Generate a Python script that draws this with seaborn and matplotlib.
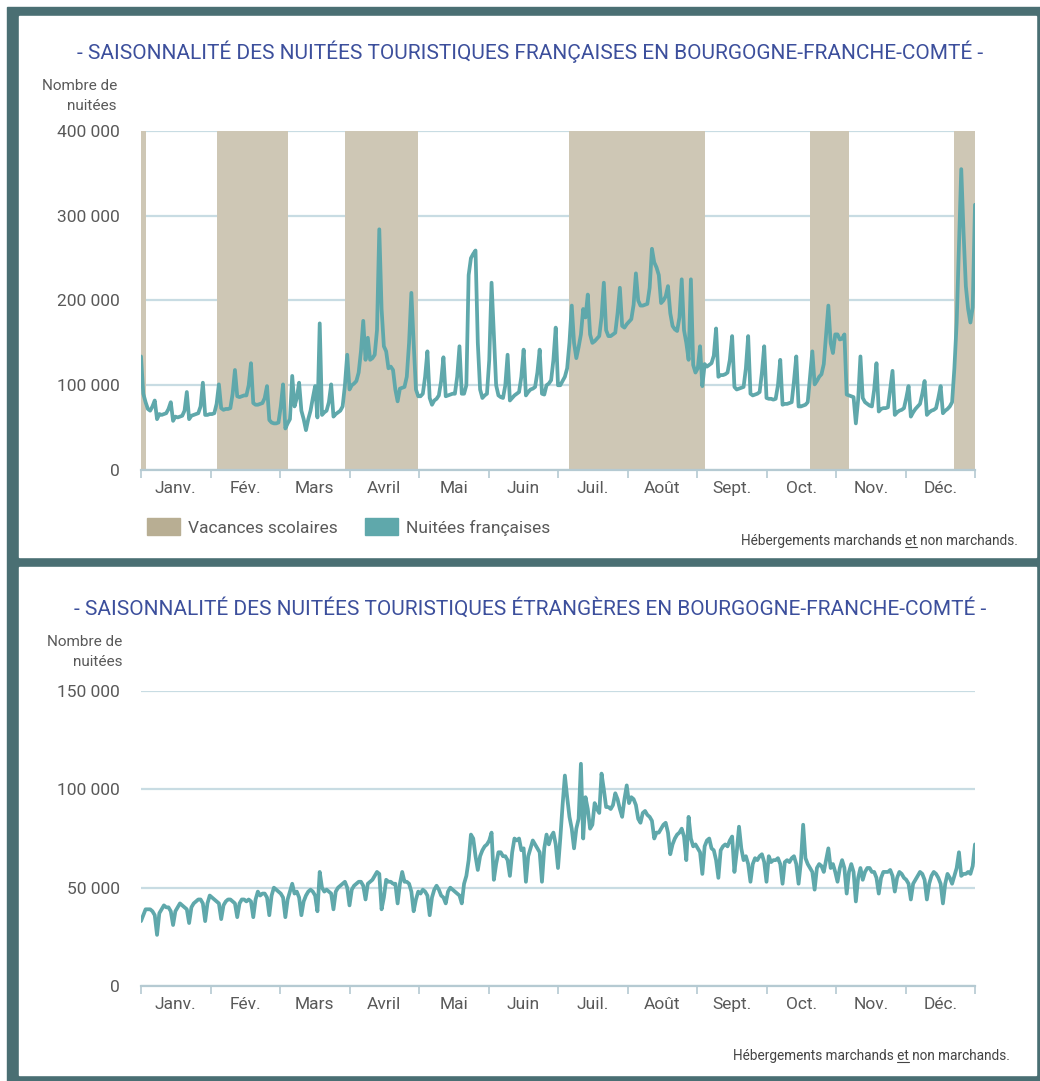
import numpy as np
import pandas as pd
import matplotlib
matplotlib.use("Agg")
import matplotlib.pyplot as plt
from matplotlib.patches import Rectangle, Patch
from matplotlib.lines import Line2D
from matplotlib.ticker import FuncFormatter
import seaborn as sns

# ---- données : milliers de nuitées, une valeur par jour (2017) ----
nuitees_fr = [
    # janv.
    134, 90, 80, 72, 70, 75, 82, 60, 66, 65, 66, 67, 72, 80, 58, 63, 62, 63, 64, 70, 92, 60, 64, 65, 66, 67, 75, 103, 65, 65, 66,
    # fév.
    66, 67, 78, 101, 73, 71, 72, 72, 73, 90, 118, 87, 86, 87, 88, 88, 100, 126, 79, 77, 77, 78, 79, 85, 99, 59, 56, 55,
    # mars
    55, 56, 75, 101, 49, 55, 60, 111, 75, 85, 103, 70, 60, 47, 60, 70, 85, 99, 62, 173, 65, 68, 70, 80, 101, 63, 66, 68, 70, 75, 100,
    # avril
    136, 95, 100, 102, 105, 115, 140, 176, 130, 156, 130, 132, 136, 165, 284, 190, 146, 140, 120, 122, 118, 95, 81, 96, 97, 98, 110, 150, 209, 150,
    # mai
    95, 87, 87, 90, 110, 140, 85, 77, 82, 84, 88, 105, 133, 87, 88, 89, 90, 90, 110, 146, 90, 90, 100, 230, 250, 255, 259, 150, 95, 85, 88,
    # juin
    90, 130, 221, 160, 100, 88, 86, 85, 100, 136, 82, 85, 88, 90, 92, 110, 142, 88, 92, 95, 96, 98, 115, 142, 90, 89, 100, 102, 106, 130,
    # juil.
    168, 100, 100, 105, 110, 120, 150, 194, 150, 132, 145, 160, 190, 180, 207, 160, 150, 152, 155, 158, 180, 221, 165, 158, 158, 160, 162, 185, 215, 170, 168,
    # août
    172, 175, 178, 195, 232, 200, 194, 194, 195, 196, 215, 261, 245, 239, 230, 197, 200, 205, 217, 185, 170, 166, 164, 180, 225, 165, 150, 130, 225, 124, 115,
    # sept.
    120, 146, 99, 125, 122, 124, 126, 135, 167, 110, 112, 112, 113, 115, 130, 158, 98, 95, 96, 97, 98, 120, 158, 90, 88, 89, 90, 92, 115, 146,
    # oct.
    85, 84, 84, 83, 84, 100, 130, 77, 78, 78, 79, 80, 105, 134, 75, 75, 76, 77, 80, 110, 140, 101, 105, 110, 113, 125, 160, 194, 150, 138, 160,
    # nov.
    160, 154, 155, 160, 89, 88, 87, 86, 55, 83, 134, 85, 80, 78, 76, 75, 95, 126, 69, 72, 73, 73, 74, 95, 117, 65, 68, 70, 71, 73,
    # déc.
    85, 99, 63, 68, 72, 75, 78, 90, 105, 65, 68, 70, 71, 73, 85, 99, 67, 70, 72, 75, 80, 120, 174, 265, 355, 280, 217, 190, 174, 192, 313,
]

nuitees_etr = [
    # janv.
    33, 36, 39, 39, 39, 38, 36, 26, 37, 39, 41, 40, 40, 38, 31, 38, 40, 42, 41, 40, 39, 32, 40, 42, 43, 44, 44, 42, 33, 42, 46,
    # fév.
    45, 44, 43, 42, 34, 41, 43, 44, 44, 43, 42, 35, 42, 44, 44, 43, 44, 43, 35, 44, 48, 46, 47, 47, 45, 36, 46, 50,
    # mars
    49, 48, 47, 45, 35, 44, 48, 52, 47, 48, 45, 36, 43, 46, 48, 49, 48, 46, 38, 58, 50, 48, 49, 48, 47, 39, 48, 50, 51, 52, 53,
    # avril
    50, 41, 49, 51, 52, 53, 53, 51, 44, 52, 53, 54, 56, 58, 57, 39, 45, 54, 53, 53, 52, 52, 42, 52, 58, 53, 53, 52, 48, 38,
    # mai
    44, 48, 47, 49, 48, 46, 36, 45, 49, 51, 49, 46, 45, 42, 48, 50, 49, 48, 47, 46, 42, 52, 56, 64, 77, 75, 66, 59, 66, 69, 71,
    # juin
    72, 74, 78, 54, 62, 68, 68, 66, 66, 64, 56, 68, 75, 74, 75, 69, 70, 53, 66, 70, 74, 72, 70, 68, 53, 70, 77, 72, 76, 78,
    # juil.
    72, 60, 75, 92, 107, 96, 86, 80, 70, 80, 85, 113, 75, 96, 90, 80, 82, 93, 90, 88, 108, 100, 91, 91, 90, 92, 98, 95, 90, 86, 95,
    # août
    102, 93, 96, 95, 92, 85, 83, 88, 89, 87, 86, 84, 75, 78, 78, 80, 82, 83, 78, 67, 72, 75, 77, 78, 80, 76, 64, 86, 75, 71, 72,
    # sept.
    70, 68, 57, 71, 74, 75, 70, 69, 64, 55, 69, 71, 72, 71, 74, 76, 58, 68, 81, 70, 64, 66, 62, 53, 62, 65, 64, 66, 67, 63,
    # oct.
    53, 66, 63, 64, 64, 65, 62, 52, 63, 64, 63, 65, 66, 62, 52, 63, 82, 65, 62, 60, 58, 49, 60, 62, 61, 58, 64, 70, 60, 62, 58,
    # nov.
    53, 60, 64, 60, 47, 58, 62, 58, 43, 55, 60, 54, 58, 60, 60, 58, 58, 55, 47, 55, 58, 58, 58, 59, 56, 48, 55, 58, 57, 55,
    # déc.
    54, 52, 44, 52, 54, 56, 58, 57, 54, 44, 52, 56, 58, 57, 55, 52, 42, 52, 57, 55, 52, 56, 60, 68, 56, 57, 57, 58, 57, 61, 72,
]

mois = ["Janv.", "Fév.", "Mars", "Avril", "Mai", "Juin", "Juil.", "Août", "Sept.", "Oct.", "Nov.", "Déc."]

# périodes de vacances scolaires (jour de début, jour de fin)
vacances = [(0, 2), (33, 64), (89, 121), (187, 246), (292, 309), (355, 365)]

titre_fr = "- SAISONNALITÉ DES NUITÉES TOURISTIQUES FRANÇAISES EN BOURGOGNE-FRANCHE-COMTÉ -"
titre_etr = "- SAISONNALITÉ DES NUITÉES TOURISTIQUES ÉTRANGÈRES EN BOURGOGNE-FRANCHE-COMTÉ -"
note_src = "Hébergements marchands et non marchands."

# couleurs
c_fond = "#4a6f73"
c_ligne = "#5fa8ab"
c_vac = "#cec7b5"
c_vac_leg = "#b8ae93"
c_grille = "#c8dce3"
c_axe = "#b5cad2"
c_titre = "#3c4f9c"
c_texte = "#595959"

sns.set_theme(style="white")
plt.rcParams["font.family"] = ["Liberation Sans Narrow", "Roboto", "DejaVu Sans"]

W, H = 1040, 1081
fx = lambda x: x / W
fy = lambda y: 1 - y / H

df = pd.DataFrame({
    "jour": np.arange(len(nuitees_fr)),
    "fr": np.array(nuitees_fr) * 1000,
    "etr": np.array(nuitees_etr) * 1000,
})

fig = plt.figure(figsize=(W / 100, H / 100), dpi=100)
fig.patch.set_facecolor("white")
# cadre sombre + deux panneaux blancs
fig.patches.append(Rectangle((fx(7), 0), 1 - fx(7), fy(7), transform=fig.transFigure, color=c_fond, zorder=-10))
fig.patches.append(Rectangle((fx(19), fy(557)), fx(1036) - fx(19), fy(16) - fy(557), transform=fig.transFigure, color="white", zorder=-9))
fig.patches.append(Rectangle((fx(19), fy(1075)), fx(1036) - fx(19), fy(567) - fy(1075), transform=fig.transFigure, color="white", zorder=-9))

ax1 = fig.add_axes([fx(141), fy(470), 834 / W, 339 / H])
ax2 = fig.add_axes([fx(141), fy(986), 834 / W, 295 / H])

fmt = FuncFormatter(lambda v, p: f"{int(v):,}".replace(",", " "))
n = len(nuitees_fr) - 1
bornes = np.linspace(0, n, 13)
centres = (bornes[:-1] + bornes[1:]) / 2


def style_axe(ax, ymax, pas):
    ax.patch.set_alpha(0)
    ax.set_xlim(0, n)
    ax.set_ylim(0, ymax)
    ax.set_yticks(np.arange(0, ymax + 1, pas))
    ax.yaxis.set_major_formatter(fmt)
    ax.set_axisbelow(True)
    ax.grid(axis="y", color=c_grille, lw=1.6)
    ax.grid(axis="x", visible=False)
    for s in ["top", "left", "right"]:
        ax.spines[s].set_visible(False)
    ax.spines["bottom"].set_color(c_axe)
    ax.spines["bottom"].set_linewidth(1.6)
    ax.set_xticks(bornes)
    ax.set_xticklabels([])
    ax.set_xticks(centres, minor=True)
    ax.set_xticklabels(mois, minor=True)
    ax.tick_params(axis="x", which="major", length=6, width=1.2, color=c_axe, direction="out", bottom=True)
    ax.tick_params(axis="x", which="minor", length=0, pad=8, labelsize=12.5, labelcolor=c_texte, bottom=True)
    ax.tick_params(axis="y", length=0, pad=15, labelsize=12.5, labelcolor=c_texte)
    ax.set_xlabel("")
    ax.set_ylabel("")


# --- graphique 1 : nuitées françaises ---
for a, b in vacances:
    ax1.axvspan(a, b, color=c_vac, lw=0, zorder=1)
sns.lineplot(data=df, x="jour", y="fr", ax=ax1, color=c_ligne, lw=2.7, zorder=3)
style_axe(ax1, 400000, 100000)

# --- graphique 2 : nuitées étrangères ---
sns.lineplot(data=df, x="jour", y="etr", ax=ax2, color=c_ligne, lw=2.7, zorder=3)
style_axe(ax2, 150000, 50000)

# titres et textes
fig.text(fx(530), fy(52), titre_fr, ha="center", va="center", fontsize=15, color=c_titre)
fig.text(fx(530), fy(608), titre_etr, ha="center", va="center", fontsize=15, color=c_titre)
fig.text(fx(117), fy(96), "Nombre de\nnuitées", ha="right", va="center", fontsize=11, color=c_texte, linespacing=1.6)
fig.text(fx(122), fy(652), "Nombre de\nnuitées", ha="right", va="center", fontsize=11, color=c_texte, linespacing=1.6)

fig.legend(handles=[Patch(color=c_vac_leg, label="Vacances scolaires"), Patch(color=c_ligne, label="Nuitées françaises")],
           loc="center left", bbox_to_anchor=(fx(147), fy(527)), ncol=2, frameon=False, fontsize=12.5,
           handlelength=1.9, handleheight=1.1, columnspacing=1.6, handletextpad=0.45, labelcolor=c_texte,
           borderpad=0, borderaxespad=0)

notes = [fig.text(fx(1018), fy(541), note_src, ha="right", va="center", fontsize=9.8, color="#444444"),
         fig.text(fx(1010), fy(1056), note_src, ha="right", va="center", fontsize=9.8, color="#444444")]

# souligner "et"
fig.canvas.draw()
r = fig.canvas.get_renderer()
for t in notes:
    bb = t.get_window_extent(r)
    tmp = fig.text(0, 0, "Hébergements marchands et", fontsize=9.8)
    w_pre = tmp.get_window_extent(r).width
    tmp.remove()
    tmp = fig.text(0, 0, "et", fontsize=9.8)
    w_et = tmp.get_window_extent(r).width
    tmp.remove()
    x1 = bb.x0 + w_pre
    x0 = x1 - w_et
    yl = bb.y0 + 1
    fig.add_artist(Line2D([x0 / fig.bbox.width, x1 / fig.bbox.width], [yl / fig.bbox.height] * 2,
                          transform=fig.transFigure, color="#444444", lw=0.8))

fig.savefig("out.png", dpi=100)
